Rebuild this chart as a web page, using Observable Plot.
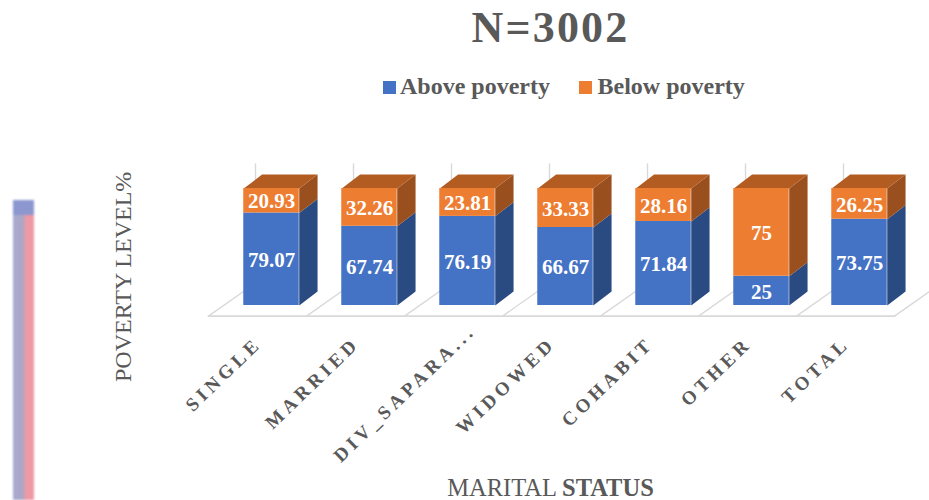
<!DOCTYPE html>
<html>
<head>
<meta charset="utf-8">
<script src="https://cdn.jsdelivr.net/npm/d3@7"></script>
<script src="https://cdn.jsdelivr.net/npm/@observablehq/plot@0.6"></script>
<style>
html,body{margin:0;padding:0;background:#fff;overflow:hidden;width:929px;height:500px;font-family:"Liberation Serif",serif;color:#595959}
#head{height:105px;position:relative}
#title{position:absolute;left:0;top:3px;width:1101px;text-align:center;font-size:44px;font-weight:bold;letter-spacing:2.2px;line-height:50px}
#legend{position:absolute;left:383px;top:72px;height:28px;font-size:24px;font-weight:bold;line-height:28px;white-space:nowrap}
#legend span{position:absolute;top:0}
#legend i{position:absolute;top:9px;width:13px;height:13px}
#chart{height:365px}
#chart svg{display:block}
.cat text{letter-spacing:4.2px}
#caption{position:absolute;left:0;top:475px;width:1101px;text-align:center;font-size:24.5px;line-height:26px}
#artifact{position:absolute;left:13px;top:200px;width:21px;height:300px;background:linear-gradient(90deg,#aaaad0 0%,#a9a7c6 45%,#ef98a5 62%,#f09aa5 100%);filter:blur(1px)}
#artifact:before{content:"";position:absolute;left:0;top:0;width:100%;height:15px;background:#8d97cf}
</style>
</head>
<body>
<div id="artifact"></div>
<div id="head">
  <div id="title">N=3002</div>
  <div id="legend"></div>
</div>
<div id="chart"></div>
<div id="caption">MARITAL <b>STATUS</b></div>
<script>
const categories = ["SINGLE","MARRIED","DIV_SAPARA...","WIDOWED","COHABIT","OTHER","TOTAL"];
const above = [79.07,67.74,76.19,66.67,71.84,25,73.75];
const below = [20.93,32.26,23.81,33.33,28.16,75,26.25];
const series = ["Above poverty","Below poverty"];
const seriesColors = ["#4472C4","#ED7D31"];
const aboveSide = "#2A4A82", belowSide = "#9A501E", belowTop = "#B35C22";

// 3-D extrusion, in scale units
const halfW = 0.283, depthX = 0.187, depthY = 12;
const floorX = 0.48, floorFront = -9.1, wallBase = 19.2, wallTop = 121;

const fronts = categories.flatMap((c,i)=>[
  {i, s:series[0], y1:0, y2:above[i], v:above[i]},
  {i, s:series[1], y1:above[i], y2:above[i]+below[i], v:below[i]}
]);
const sideFace = (i,y1,y2)=>[
  {k:i,x:i+halfW,y:y1},{k:i,x:i+halfW+depthX,y:y1+depthY},
  {k:i,x:i+halfW+depthX,y:y2+depthY},{k:i,x:i+halfW,y:y2}];
const aboveSides = categories.flatMap((c,i)=>sideFace(i,0,above[i]));
const belowSides = categories.flatMap((c,i)=>sideFace(i,above[i],above[i]+below[i]));
const tops = categories.flatMap((c,i)=>{const t=above[i]+below[i];return [
  {k:i,x:i-halfW,y:t},{k:i,x:i+halfW,y:t},
  {k:i,x:i+halfW+depthX,y:t+depthY},{k:i,x:i-halfW+depthX,y:t+depthY}];});

const edges = d3.range(8).map(n=>n-0.643);
const floorLines = edges.flatMap((x,k)=>[
  {k,x,y:floorFront},{k,x:x+floorX,y:wallBase},{k,x:x+floorX,y:wallTop}]);
const floorFrontLine = [{x:edges[0],y:floorFront},{x:edges[7],y:floorFront}];

const labelRows = categories.map((c,i)=>({c,i}));
const latin = "Liberation Serif";
const chart = Plot.plot({
  width:929, height:365,
  marginTop:0, marginRight:0, marginBottom:0, marginLeft:0,
  clip:false,
  x:{domain:[0,6],range:[271,859],axis:null},
  y:{domain:[0,100],range:[200,83],axis:null},
  color:{domain:series,range:seriesColors},
  marks:[
    Plot.line(floorLines,{x:"x",y:"y",z:"k",stroke:"#D9D9D9",strokeWidth:1.4,clip:true}),
    Plot.line(floorFrontLine,{x:"x",y:"y",stroke:"#D9D9D9",strokeWidth:1.8}),
    Plot.line(aboveSides,{x:"x",y:"y",z:"k",fill:aboveSide,stroke:null}),
    Plot.line(belowSides,{x:"x",y:"y",z:"k",fill:belowSide,stroke:null}),
    Plot.line(tops,{x:"x",y:"y",z:"k",fill:belowTop,stroke:null}),
    Plot.rect(fronts,{x1:d=>d.i-halfW,x2:d=>d.i+halfW,y1:"y1",y2:"y2",fill:"s"}),
    Plot.text(fronts,{x:"i",y:d=>(d.y1+d.y2)/2,text:d=>String(d.v),fill:"#fff",
      fontFamily:latin,fontWeight:"bold",fontSize:21,dy:1}),
    Plot.text(labelRows.filter(d=>!d.c.endsWith("...")),{x:"i",y:-30,text:"c",rotate:-44,
      textAnchor:"end",dx:-13,fill:"#595959",fontFamily:latin,fontWeight:"bold",fontSize:19,className:"cat"}),
    Plot.text(labelRows.filter(d=>d.c.endsWith("...")),{x:"i",y:-19,text:"c",rotate:-44,
      textAnchor:"end",dx:5,fill:"#595959",fontFamily:latin,fontWeight:"bold",fontSize:19,className:"cat"}),
    Plot.text(["POVERTY LEVEL%"],{x:-1.51,y:24.5,text:d=>d,rotate:-90,fill:"#595959",
      fontFamily:latin,fontSize:24})
  ]
});
document.getElementById("chart").append(chart);

const legend = document.getElementById("legend");
[[0,17],[196,214.5]].forEach(([sw,tx],k)=>{
  const i=document.createElement("i");i.style.left=sw+"px";i.style.background=seriesColors[k];legend.append(i);
  const s=document.createElement("span");s.style.left=tx+"px";s.textContent=series[k];legend.append(s);
});
</script>
</body>
</html>
